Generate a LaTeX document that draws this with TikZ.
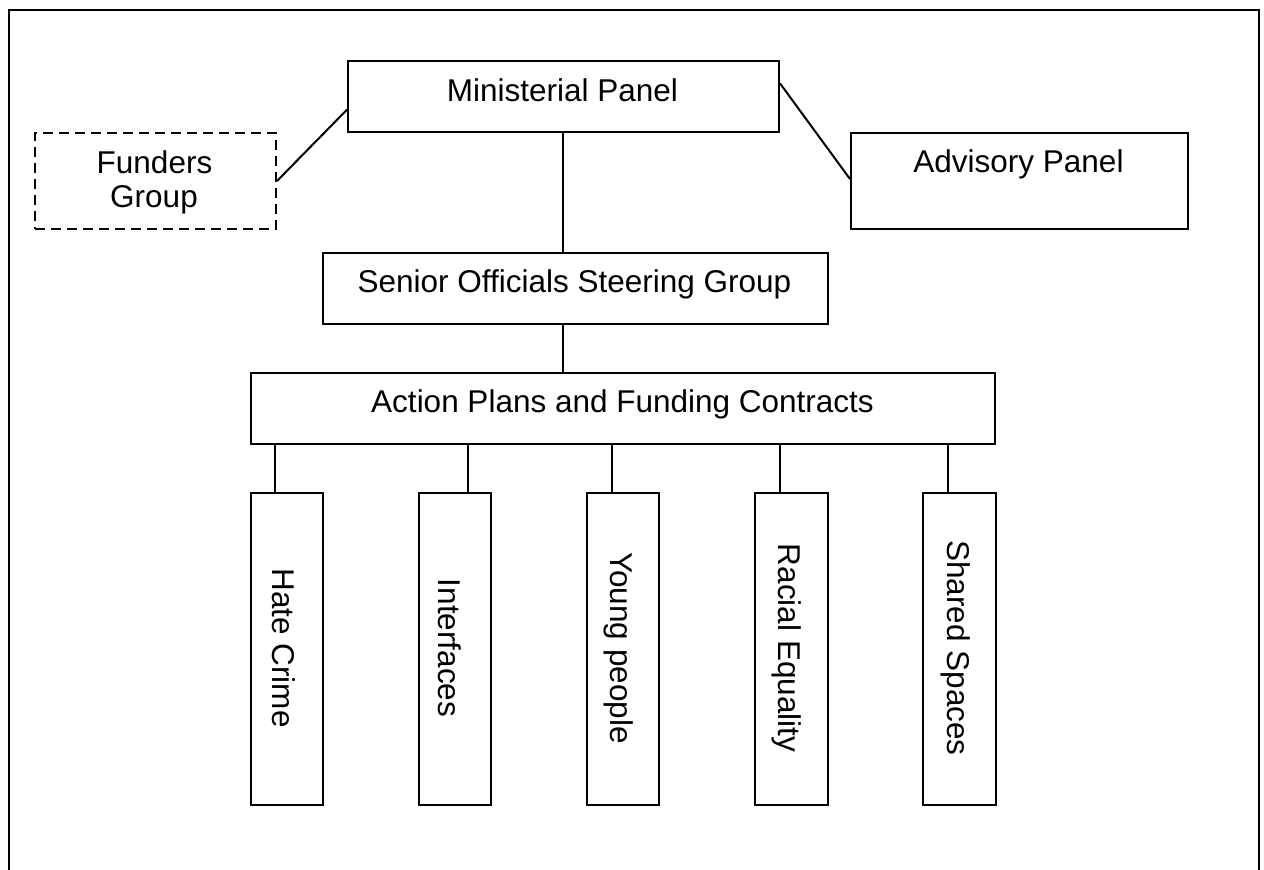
\documentclass[tikz,border=0pt]{standalone}
\usepackage{fontspec}
\setmainfont{Liberation Sans}
\usetikzlibrary{calc}
\begin{document}
\begin{tikzpicture}[x=1pt,y=-1pt,
  box/.style={draw=black,line width=2pt,inner sep=0pt,anchor=north west},
  dbox/.style={box,dashed,dash pattern=on 10pt off 6pt},
  txt/.style={inner sep=0pt,anchor=base,font=\fontsize{31.5}{36}\selectfont},
  vtxt/.style={txt,rotate=-90},
  conn/.style={line width=2pt,black}]
\useasboundingbox (0,0) rectangle (1264,870);
% outer frame (bottom edge falls outside the picture)
\draw[line width=2pt] (9,872) -- (9,10) -- (1259,10) -- (1259,872);
% boxes
\node[dbox,minimum width=241pt,minimum height=96pt] (fund) at (34,132) {};
\node[box,minimum width=431pt,minimum height=71pt] (min) at (347,60) {};
\node[box,minimum width=337pt,minimum height=96pt] (adv) at (850,132) {};
\node[box,minimum width=505pt,minimum height=71pt] (sen) at (322,252) {};
\node[box,minimum width=744pt,minimum height=71pt] (act) at (250,372) {};
\node[box,minimum width=72pt,minimum height=312pt] (hate) at (250,492) {};
\node[box,minimum width=72pt,minimum height=312pt] (intf) at (418,492) {};
\node[box,minimum width=72pt,minimum height=312pt] (young) at (586,492) {};
\node[box,minimum width=73pt,minimum height=312pt] (racial) at (754,492) {};
\node[box,minimum width=73pt,minimum height=312pt] (shared) at (922,492) {};
% texts
\node[txt] (tfundA) at (154.5,173) {Funders};
\node[txt] (tfundB) at (154,207) {Group};
\node[txt] (tmin) at (562.5,101) {Ministerial Panel};
\node[txt] (tadv) at (1018.5,172) {Advisory Panel};
\node[txt] (tsen) at (574.5,292) {Senior Officials Steering Group};
\node[txt] (tact) at (622.5,412) {Action Plans and Funding Contracts};
\node[vtxt] (thate) at (272,648) {Hate Crime};
\node[vtxt] (tintf) at (438,648) {Interfaces};
\node[vtxt] (tyoung) at (610,648) {Young people};
\node[vtxt] (tracial) at (778,648) {Racial Equality};
\node[vtxt] (tshared) at (947,648) {Shared Spaces};
% connectors
\draw[conn] (fund.east) -- ($(min.north west)!0.68!(min.south west)$);
\draw[conn] ($(min.north east)!0.32!(min.south east)$) -- ($(adv.north west)!0.48!(adv.south west)$);
\draw[conn] ($(min.south)+(-0.5,0)$) coordinate (m1) -- (m1 |- sen.north);
\draw[conn] (m1 |- sen.south) -- (m1 |- act.north);
\draw[conn] ($(hate.north)+(-12,0)$) coordinate (s1) -- (s1 |- act.south);
\draw[conn] ($(intf.north)+(13,0)$) coordinate (s2) -- (s2 |- act.south);
\draw[conn] ($(young.north)+(-11,0)$) coordinate (s3) -- (s3 |- act.south);
\draw[conn] ($(racial.north)+(-11.5,0)$) coordinate (s4) -- (s4 |- act.south);
\draw[conn] ($(shared.north)+(-11.5,0)$) coordinate (s5) -- (s5 |- act.south);
\end{tikzpicture}
\end{document}
